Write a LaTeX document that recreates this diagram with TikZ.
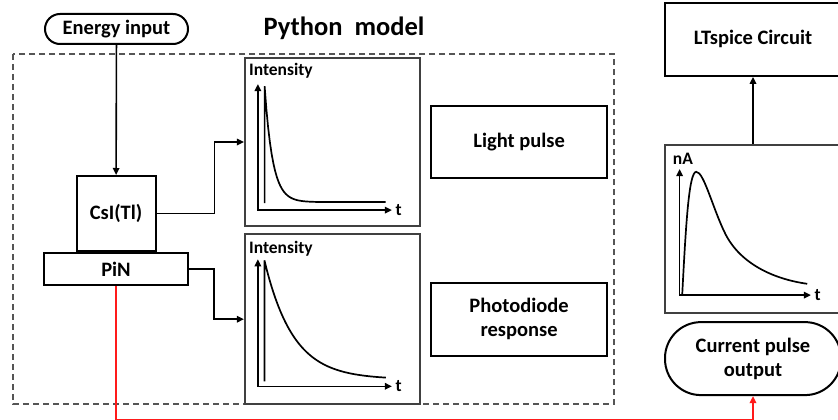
\documentclass[tikz,border=0pt]{standalone}
\usepackage{fontspec}
\setmainfont{Carlito}
\usepackage{tikz}
\usetikzlibrary{arrows.meta,positioning,calc}
\definecolor{Frame}{HTML}{555555}
\definecolor{Wire}{HTML}{FF1A1A}
\tikzset{
  blockbox/.style={draw=black, line width=2pt, fill=white, align=center, inner sep=2pt, font=\fontsize{20.5}{24}\selectfont\bfseries},
  pillbox/.style={blockbox, rounded corners=15pt},
  plotbox/.style={draw=black!75, line width=2.2pt, fill=white, inner sep=0pt},
  pyframe/.style={draw=Frame, line width=1.6pt, dash pattern=on 6pt off 4pt},
  arrow/.style={-{Triangle[length=7pt,width=6.5pt]}, line width=1.6pt},
  redwire/.style={-{Triangle[length=7pt,width=6.5pt]}, line width=1.9pt, draw=Wire},
  axis/.style={{Triangle[length=7pt,width=6.5pt]}-{Triangle[length=7pt,width=6.5pt]}, line width=1.6pt},
  pulse/.style={line width=1.7pt},
  plotlabel/.style={font=\fontsize{17.5}{20}\selectfont\bfseries, inner sep=0pt}
}

\begin{document}
\begin{tikzpicture}[x=1pt, y=-1pt]
  \useasboundingbox (0,0) rectangle (838,420);

  % Python side
  \node[pillbox, minimum width=143pt, minimum height=30pt] (energy) at (116.5,29) {Energy input};
  \node[font=\fontsize{26.5}{30}\selectfont\bfseries] (title) at (344,28) {Python~ model};
  \draw[pyframe] (13,54) rectangle (614,404);

  \node[blockbox, minimum width=144pt, minimum height=32pt] (pin) at (116,269) {PiN};
  \node[blockbox, minimum width=79pt, minimum height=75pt, above=0pt of pin] (csi) {CsI(Tl)};

  \node[plotbox, minimum width=175pt, minimum height=168pt] (light plot) at (332.5,142) {};
  \node[plotbox, minimum width=175pt, minimum height=170pt, below=6pt of light plot] (diode plot) {};

  \node[blockbox, minimum width=176pt, minimum height=72pt, right=9pt of light plot] (light) {Light pulse};
  \node[blockbox, minimum width=176pt, minimum height=73pt, right=9pt of diode plot] (diode) {Photodiode\\response};

  % LTspice side
  \node[plotbox, minimum width=176pt, minimum height=168pt] (current plot) at (753,229) {};
  \node[blockbox, minimum width=176pt, minimum height=73pt, above=67pt of current plot] (ltspice) {LTspice Circuit};
  \node[pillbox, rounded corners=36pt, minimum width=176pt, minimum height=73pt, below=7pt of current plot] (output) {Current pulse\\output};

  % scintillation light
  \begin{scope}[shift={(light plot.south west)}]
    \draw[axis] (14,-143) |- (148,-17) node[right=3pt, plotlabel] {t};
    \node[plotlabel, anchor=west] at (5,-156) {Intensity};
    \draw[pulse] (20.7,-24) -- (20.7,-141)
      plot[domain=0:121, samples=70] ({20.7+\x},{-25-116*exp(-\x/8)});
  \end{scope}

  % photodiode signal
  \begin{scope}[shift={(diode plot.south west)}]
    \draw[axis] (14,-146) |- (148,-19) node[right=3pt, plotlabel] {t};
    \node[plotlabel, anchor=west] at (5,-157) {Intensity};
    \draw[pulse] (20.5,-24) -- (20.5,-145)
      plot[domain=0:121.5, samples=70] ({20.5+\x},{-26-119*exp(-\x/28.6)});
  \end{scope}

  % shaped current pulse
  \begin{scope}[shift={(current plot.south west)}]
    \draw[axis] (15.7,-145) |- (147,-19) node[right=3pt, plotlabel] {t};
    \node[plotlabel] at (19,-155) {nA};
    \draw[pulse] (18.3,-19) .. controls (22,-90) and (25,-142) .. (32.3,-142.3)
      .. controls (40,-142.5) and (49,-105) .. (61.7,-79.7)
      .. controls (77,-50) and (110,-35) .. (143.3,-30.3);
  \end{scope}

  \draw[arrow] (energy) -- (csi);
  \draw[arrow] (csi.east) -- ++(58,0) |- (light plot.west);
  \draw[arrow] (pin.east) -- ++(25,0) |- (diode plot.west);
  \draw[arrow] (current plot) -- (ltspice);
  \draw[redwire] (pin.south) -- ++(0,133.5) -| (output.south);
\end{tikzpicture}
\end{document}
